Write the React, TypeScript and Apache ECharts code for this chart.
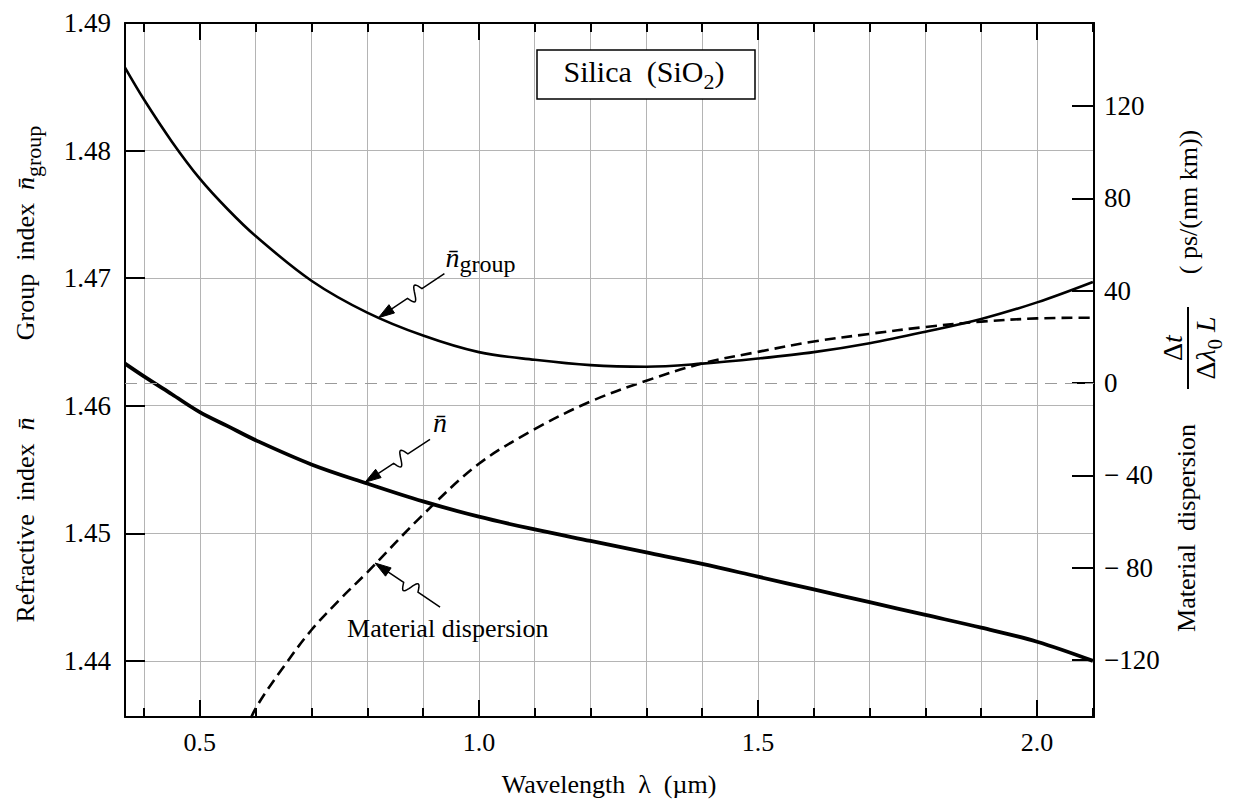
import React, { useEffect, useRef } from "react";
import * as echarts from "echarts";

const FONT = '"Liberation Serif", "Times New Roman", "DejaVu Serif", serif';

// Axis ranges and tick values
const X_MIN = 0.366;
const X_MAX = 2.102;
const X_GRID = [0.4, 0.5, 0.6, 0.7, 0.8, 0.9, 1.0, 1.1, 1.2, 1.3, 1.4, 1.5, 1.6, 1.7, 1.8, 1.9, 2.0, 2.1];
const X_MAJOR = [0.5, 1.0, 1.5, 2.0];
const Y_LEFT_MIN = 1.4356;
const Y_LEFT_MAX = 1.49;
const Y_LEFT_TICKS = [1.44, 1.45, 1.46, 1.47, 1.48, 1.49];
const Y_RIGHT_MIN = -144.7;
const Y_RIGHT_MAX = 156;
const Y_RIGHT_TICKS = [-120, -80, -40, 0, 40, 80, 120];

// Refractive index n
const LAMBDA_N = [0.366, 0.4, 0.45, 0.5, 0.55, 0.6, 0.7, 0.8, 0.9, 1.0, 1.1, 1.2, 1.3, 1.4, 1.5, 1.6, 1.7, 1.8, 1.9, 2.0, 2.1];
const N_VALUES = [1.4633, 1.4623, 1.4609, 1.4595, 1.4584, 1.4573, 1.4554, 1.4539, 1.4525, 1.4513, 1.4503, 1.4494, 1.4485, 1.4476, 1.4466, 1.4456, 1.4446, 1.4436, 1.4426, 1.4415, 1.44];

// Group index
const LAMBDA_G = [0.366, 0.4, 0.45, 0.5, 0.55, 0.6, 0.7, 0.8, 0.9, 1.0, 1.1, 1.2, 1.3, 1.4, 1.5, 1.6, 1.7, 1.8, 1.9, 2.0, 2.1];
const NG_VALUES = [1.4865, 1.484, 1.4807, 1.4778, 1.4754, 1.4733, 1.4698, 1.4673, 1.4655, 1.4642, 1.4636, 1.46318, 1.46306, 1.4633, 1.4637, 1.4642, 1.4649, 1.4658, 1.4668, 1.4681, 1.4697];

// Material dispersion (ps/(nm km))
const LAMBDA_D = [0.58, 0.6, 0.65, 0.7, 0.75, 0.8, 0.9, 1.0, 1.1, 1.2, 1.3, 1.4, 1.5, 1.6, 1.7, 1.8, 1.9, 2.0, 2.1];
const D_VALUES = [-152, -141, -123, -107, -94, -82, -57, -35, -20, -8, 1, 8.5, 13.5, 18, 21.3, 24.3, 26.6, 28, 28.3];

// Annotation anchors (data coordinates the arrows point at)
const ANCHOR_GROUP = [0.82, 1.4669];
const ANCHOR_N = [0.796, 1.454];
const ANCHOR_DISP = [0.814, -78];

const zip = (a: number[], b: number[]) => a.map((v, i) => [v, b[i]]);

const tickStyle = { color: "#000", width: 2 };

function rightLabel(v: number) {
  if (v < 0) {
    const a = Math.abs(v);
    return a >= 100 ? "\u2212" + a : "\u2212 " + a;
  }
  return String(v);
}

function buildOption(): any {
  const xBase = {
    type: "value",
    min: X_MIN,
    max: X_MAX,
    gridIndex: 0,
  };
  return {
    animation: false,
    backgroundColor: "#fff",
    grid: { left: 125, right: 144, top: 23, bottom: 84, containLabel: false },
    xAxis: [
      {
        ...xBase,
        position: "bottom",
        axisLine: { show: true, onZero: false, lineStyle: { color: "#000", width: 2 } },
        axisTick: { show: true, inside: true, length: 9, customValues: X_GRID, lineStyle: tickStyle },
        splitLine: { show: true, lineStyle: { color: "#b4b4b4", width: 1 } },
        axisLabel: {
          show: true,
          customValues: X_MAJOR,
          formatter: (v: number) => v.toFixed(1),
          fontFamily: FONT,
          fontSize: 26,
          color: "#000",
          margin: 12,
        },
      },
      {
        ...xBase,
        position: "bottom",
        axisLine: { show: false, onZero: false },
        axisTick: { show: true, inside: true, length: 17, customValues: X_MAJOR, lineStyle: tickStyle },
        splitLine: { show: false },
        axisLabel: { show: false },
      },
      {
        ...xBase,
        position: "top",
        axisLine: { show: true, onZero: false, lineStyle: { color: "#000", width: 2 } },
        axisTick: { show: true, inside: true, length: 9, customValues: X_GRID, lineStyle: tickStyle },
        splitLine: { show: false },
        axisLabel: { show: false },
      },
      {
        ...xBase,
        position: "top",
        axisLine: { show: false, onZero: false },
        axisTick: { show: true, inside: true, length: 17, customValues: X_MAJOR, lineStyle: tickStyle },
        splitLine: { show: false },
        axisLabel: { show: false },
      },
    ],
    yAxis: [
      {
        type: "value",
        min: Y_LEFT_MIN,
        max: Y_LEFT_MAX,
        position: "left",
        axisLine: { show: true, onZero: false, lineStyle: { color: "#000", width: 2 } },
        axisTick: { show: true, inside: true, length: 20, customValues: Y_LEFT_TICKS, lineStyle: tickStyle },
        splitLine: { show: true, lineStyle: { color: "#b4b4b4", width: 1 } },
        axisLabel: {
          show: true,
          customValues: Y_LEFT_TICKS,
          formatter: (v: number) => v.toFixed(2),
          fontFamily: FONT,
          fontSize: 27,
          color: "#000",
          margin: 14,
        },
      },
      {
        type: "value",
        min: Y_RIGHT_MIN,
        max: Y_RIGHT_MAX,
        position: "right",
        axisLine: { show: true, onZero: false, lineStyle: { color: "#000", width: 2 } },
        axisTick: { show: true, inside: true, length: 22, customValues: Y_RIGHT_TICKS, lineStyle: tickStyle },
        splitLine: { show: false },
        axisLabel: {
          show: true,
          customValues: Y_RIGHT_TICKS,
          formatter: rightLabel,
          fontFamily: FONT,
          fontSize: 27,
          color: "#000",
          margin: 10,
        },
      },
    ],
    series: [
      {
        name: "group",
        type: "line",
        xAxisIndex: 0,
        yAxisIndex: 0,
        data: zip(LAMBDA_G, NG_VALUES),
        smooth: 0.35,
        symbol: "none",
        lineStyle: { color: "#000", width: 2.6 },
      },
      {
        name: "n",
        type: "line",
        xAxisIndex: 0,
        yAxisIndex: 0,
        data: zip(LAMBDA_N, N_VALUES),
        smooth: 0.35,
        symbol: "none",
        lineStyle: { color: "#000", width: 3.8 },
      },
      {
        name: "dispersion",
        type: "line",
        xAxisIndex: 0,
        yAxisIndex: 1,
        data: zip(LAMBDA_D, D_VALUES),
        smooth: 0.35,
        symbol: "none",
        clip: true,
        lineStyle: { color: "#000", width: 2.6, type: [11, 6] },
        markLine: {
          silent: true,
          symbol: "none",
          label: { show: false },
          lineStyle: { color: "#9a9a9a", width: 1, type: [12, 8] },
          data: [{ yAxis: 0 }],
        },
      },
    ],
  };
}

function squiggleArrow(S: number[], E: number[]): any[] {
  const dx = E[0] - S[0];
  const dy = E[1] - S[1];
  const L = Math.hypot(dx, dy);
  const d = [dx / L, dy / L];
  const n = [-d[1], d[0]];
  const pt = (u: number, w: number) => [S[0] + d[0] * u + n[0] * w, S[1] + d[1] * u + n[1] * w];
  const pts: number[][] = [pt(0, 0), pt(0.34 * L, 0)];
  const u0 = 0.34 * L;
  const u1 = 0.56 * L;
  const A = 7;
  for (let i = 1; i <= 20; i++) {
    const t = i / 20;
    pts.push(pt(u0 + (u1 - u0) * t, A * Math.sin(2 * Math.PI * t)));
  }
  pts.push(pt(L - 12, 0));
  const head = [E, pt(L - 16, 5), pt(L - 16, -5)];
  return [
    { type: "polyline", silent: true, shape: { points: pts }, style: { stroke: "#000", lineWidth: 1.5, fill: "none" } },
    { type: "polygon", silent: true, shape: { points: head }, style: { fill: "#000", stroke: "#000", lineWidth: 1 } },
  ];
}

function buildGraphics(chart: any): any[] {
  const px = (p: number[], yi: number) => chart.convertToPixel({ xAxisIndex: 0, yAxisIndex: yi }, p) as number[];
  const tG = px(ANCHOR_GROUP, 0);
  const tN = px(ANCHOR_N, 0);
  const tD = px(ANCHOR_DISP, 1);
  const g: any[] = [];

  g.push(...squiggleArrow([tG[0] + 66, tG[1] - 44], tG));
  g.push(...squiggleArrow([tN[0] + 65, tN[1] - 43], tN));
  g.push(...squiggleArrow([tD[0] + 65, tD[1] + 44], tD));

  const nbarRich = (size: number) => ({
    n: { fontFamily: FONT, fontStyle: "italic", fontSize: size, lineHeight: 32, verticalAlign: "top", fill: "#000" },
    g: { fontFamily: FONT, fontSize: size - 4, lineHeight: 18, verticalAlign: "bottom", fill: "#000" },
    a: { fontFamily: FONT, fontSize: size, lineHeight: 32, verticalAlign: "top", fill: "#000" },
  });

  // n-group label
  g.push({
    type: "text",
    silent: true,
    x: tG[0] + 67,
    y: tG[1] - 58,
    style: { text: "{n|n\u0304}{g|group}", rich: nbarRich(28), align: "left", verticalAlign: "middle" },
  });
  // n label
  g.push({
    type: "text",
    silent: true,
    x: tN[0] + 68,
    y: tN[1] - 58,
    style: { text: "{n|n\u0304}", rich: nbarRich(28), align: "left", verticalAlign: "middle" },
  });
  // Material dispersion label
  g.push({
    type: "text",
    silent: true,
    x: tD[0] - 28,
    y: tD[1] + 65,
    style: { text: "Material dispersion", fontFamily: FONT, fontSize: 26, fill: "#000", align: "left", verticalAlign: "middle" },
  });

  // Silica box
  g.push({
    type: "rect",
    silent: true,
    shape: { x: 537, y: 50, width: 218, height: 49 },
    style: { fill: "#fff", stroke: "#000", lineWidth: 1.5 },
  });
  g.push({
    type: "text",
    silent: true,
    x: 644,
    y: 74,
    style: {
      text: "{a|Silica  (SiO}{s|2}{a|)}",
      rich: {
        a: { fontFamily: FONT, fontSize: 30, lineHeight: 36, verticalAlign: "top", fill: "#000" },
        s: { fontFamily: FONT, fontSize: 22, lineHeight: 22, verticalAlign: "bottom", fill: "#000" },
      },
      align: "center",
      verticalAlign: "middle",
    },
  });

  // Left axis titles
  g.push({
    type: "text",
    silent: true,
    x: 28,
    y: 233,
    rotation: Math.PI / 2,
    style: { text: "{a|Group  index  }{n|n\u0304}{g|group}", rich: nbarRich(26), align: "center", verticalAlign: "middle" },
  });
  g.push({
    type: "text",
    silent: true,
    x: 28,
    y: 520,
    rotation: Math.PI / 2,
    style: { text: "{a|Refractive  index  }{n|n\u0304}", rich: nbarRich(26), align: "center", verticalAlign: "middle" },
  });

  // Right axis titles
  g.push({
    type: "text",
    silent: true,
    x: 1188,
    y: 202,
    rotation: Math.PI / 2,
    style: { text: "( ps/(nm km))", fontFamily: FONT, fontSize: 26, fill: "#000", align: "center", verticalAlign: "middle" },
  });
  g.push({
    type: "text",
    silent: true,
    x: 1186,
    y: 528,
    rotation: Math.PI / 2,
    style: { text: "Material  dispersion", fontFamily: FONT, fontSize: 26, fill: "#000", align: "center", verticalAlign: "middle" },
  });
  g.push({
    type: "group",
    x: 1188,
    y: 348,
    rotation: Math.PI / 2,
    silent: true,
    children: [
      {
        type: "text",
        x: 0,
        y: -16,
        style: {
          text: "{a|\u0394}{i|t}",
          rich: {
            a: { fontFamily: FONT, fontSize: 28, fill: "#000" },
            i: { fontFamily: FONT, fontSize: 28, fontStyle: "italic", fill: "#000" },
          },
          align: "center",
          verticalAlign: "middle",
        },
      },
      { type: "line", shape: { x1: -41, y1: 0, x2: 41, y2: 0 }, style: { stroke: "#000", lineWidth: 2 } },
      {
        type: "text",
        x: 0,
        y: 20,
        style: {
          text: "{a|\u0394}{i|\u03bb}{s|0}{i| L}",
          rich: {
            a: { fontFamily: FONT, fontSize: 28, lineHeight: 34, verticalAlign: "top", fill: "#000" },
            i: { fontFamily: FONT, fontSize: 28, lineHeight: 34, verticalAlign: "top", fontStyle: "italic", fill: "#000" },
            s: { fontFamily: FONT, fontSize: 21, lineHeight: 21, verticalAlign: "bottom", fill: "#000" },
          },
          align: "center",
          verticalAlign: "middle",
        },
      },
    ],
  });

  // Bottom axis title
  g.push({
    type: "text",
    silent: true,
    x: 609,
    y: 784,
    style: { text: "Wavelength  \u03bb  (\u00b5m)", fontFamily: FONT, fontSize: 26, fill: "#000", align: "center", verticalAlign: "middle" },
  });

  return g;
}

export default function App() {
  const ref = useRef<HTMLDivElement>(null);
  useEffect(() => {
    document.body.style.margin = "0";
    const chart = echarts.init(ref.current!, null, { renderer: "svg" });
    chart.setOption(buildOption());
    chart.setOption({ graphic: buildGraphics(chart) });
    return () => chart.dispose();
  }, []);
  return <div ref={ref} style={{ width: 1238, height: 801 }} />;
}
